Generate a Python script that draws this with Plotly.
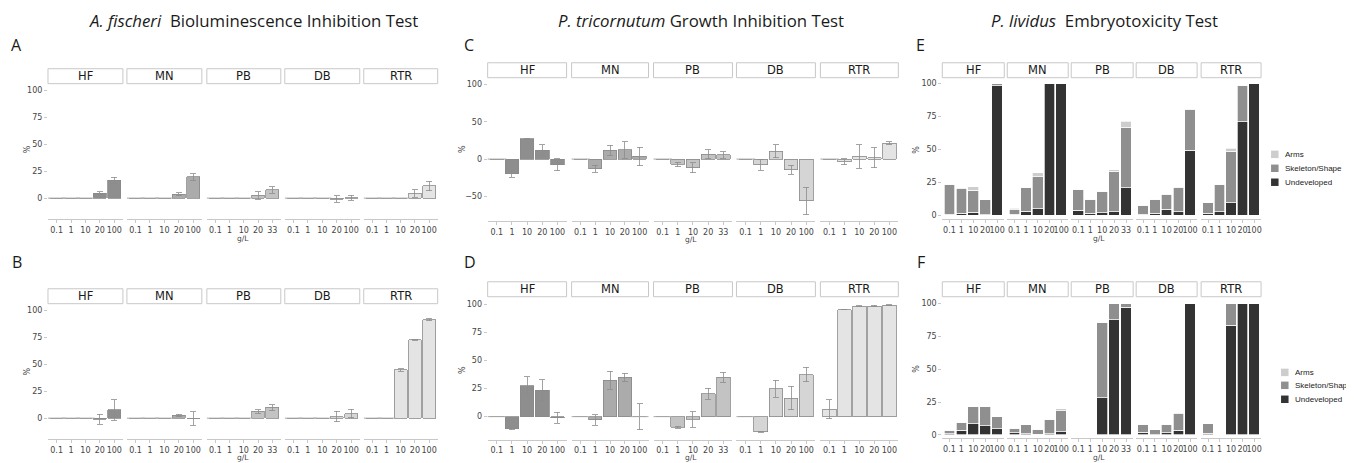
import plotly.graph_objects as go

# page body adds an 8px margin, so the figure is placed at (8, 8) in the window
OFF = 8
W, H = 1354 - OFF, 463 - OFF

# ---------------- data ----------------
facets = ["HF", "MN", "PB", "DB", "RTR"]
conc_std = ["0.1", "1", "10", "20", "100"]
conc_pb = ["0.1", "1", "10", "20", "33"]

col_titles = ["<i>A. fischeri</i>  Bioluminescence Inhibition Test",
              "<i>P. tricornutum</i> Growth Inhibition Test",
              "<i>P. lividus</i>  Embryotoxicity Test"]

# A: A. fischeri (row 1) - mean % and error per facet
a_mean = [[0, 0, 0, 4.6, 16.7], [0, 0, 0, 3.7, 19.7], [0, 0, 0, 2.5, 7.7],
          [0, 0, 0, -1.0, 0.3], [0, 0, 0, 4.3, 11.4]]
a_err = [[0, 0, 0, 1.5, 2.8], [0, 0, 0, 1.5, 3.0], [0, 0, 0, 3.5, 3.0],
         [0, 0, 0, 3.0, 2.5], [0, 0, 0, 3.5, 4.5]]
# B: A. fischeri (row 2)
b_mean = [[0, 0, 0, -1.0, 7.7], [0, 0, 0, 2.5, -0.3], [0, 0, 0, 6.2, 10.0],
          [0, 0, 0, 1.5, 4.3], [0, 0, 44.8, 72.8, 91.7]]
b_err = [[0, 0, 0, 4.6, 9.5], [0, 0, 0, 1.0, 6.3], [0, 0, 0, 1.5, 2.5],
         [0, 0, 0, 5.0, 4.0], [0, 0, 1.0, 0.3, 1.0]]
# C: P. tricornutum (row 1)
c_mean = [[0, -19.6, 27.0, 12.0, -7.5], [0, -13.0, 11.5, 12.4, 3.5],
          [0, -7.0, -11.5, 6.5, 5.5], [0, -7.5, 10.5, -14.5, -56.0],
          [0, -3.5, 3.5, 2.0, 21.0]]
c_err = [[0, 4.5, 1.0, 7.5, 8.0], [0, 4.5, 7.0, 11.0, 12.5],
         [0, 3.0, 6.5, 6.0, 4.5], [0, 7.5, 9.0, 6.0, 18.5],
         [0, 4.0, 16.0, 13.5, 2.0]]
# D: P. tricornutum (row 2)
d_mean = [[0, -11.0, 27.5, 23.5, -1.0], [0, -3.0, 32.5, 35.0, 0],
          [0, -9.5, -2.5, 20.5, 35.0], [0, -13.5, 25.0, 16.5, 37.5],
          [6.5, 95.5, 98.5, 98.7, 99.3]]
d_err = [[0, 0.5, 8.0, 9.5, 4.8], [0, 4.5, 8.0, 3.5, 11.5],
         [0, 1.0, 7.0, 5.0, 4.5], [0, 0.5, 7.5, 10.5, 6.5],
         [8.5, 0.3, 0.5, 0.5, 0.5]]

# E: P. lividus (row 1) - stacked percentages
e_undev = [[0.8, 1.3, 2.3, 0.3, 98.5], [0.8, 2.8, 5.0, 100, 100],
           [3.8, 1.5, 1.8, 2.5, 20.8], [0.8, 1.5, 4.6, 2.5, 49.5],
           [1.3, 2.5, 9.4, 71.0, 100]]
e_skel = [[22.3, 18.7, 16.5, 11.4, 1.5], [3.3, 18.3, 24.0, 0, 0],
          [16.0, 10.5, 16.5, 31.0, 46.2], [6.5, 10.5, 11.1, 18.8, 31.0],
          [8.3, 20.8, 39.0, 27.7, 0]]
e_arms = [[0.5, 0.8, 2.8, 0, 0], [1.0, 0, 3.2, 0, 0],
          [0, 0, 0, 1.0, 4.3], [0.3, 0, 0.5, 0.3, 0.5],
          [0, 0, 2.5, 0, 0]]
# F: P. lividus (row 2)
f_undev = [[0.8, 3.3, 8.4, 7.1, 4.8], [1.5, 0.8, 0.3, 0.8, 2.5],
           [0, 0, 28.1, 87.8, 97.2], [1.8, 0, 1.5, 3.5, 100],
           [1.3, 0, 83.5, 100, 100]]
f_skel = [[2.5, 6.3, 12.9, 14.2, 8.9], [3.6, 6.8, 4.0, 11.1, 15.7],
          [0, 0, 57.9, 12.2, 2.8], [6.3, 4.0, 6.6, 12.7, 0],
          [7.1, 0, 16.5, 0, 0]]
f_arms = [[0, 0, 0, 0, 0], [0, 0, 0, 0, 1.8],
          [0, 0, 0, 0, 0], [0, 0, 0, 0.8, 0],
          [0, 0, 0, 0, 0]]

stack_names = ["Undeveloped", "Skeleton/Shape", "Arms"]

# ---------------- style / layout ----------------
fill_colors = ["#8e8e8e", "#ababab", "#c3c3c3", "#d5d5d5", "#e4e4e4"]
stack_colors = ["#333333", "#8f8f8f", "#cdcdcd"]
GRID = "#c8c8c8"
TXT = "#444444"
AXFONT = "DejaVu Sans"

col_x = {
    "L": [(48, 123), (127, 202), (207, 281), (285, 360), (364, 438)],
    "M": [(488, 567), (572, 649), (654, 733), (737, 816), (821, 899)],
    "R": [(943, 1005), (1008, 1069), (1072, 1134), (1137, 1198), (1202, 1262)],
}
# key, column, strip top, strip bottom, plot bottom, y range, y ticks, letter pos, ylab pos, g/L pos
panel_spec = [
    ("A", "L", 69, 84, 220, [-19.5, 106.5], [0, 25, 50, 75, 100], (17, 45), (27, 150), (243, 240)),
    ("B", "L", 290, 305, 441, [-19.5, 106.5], [0, 25, 50, 75, 100], (17, 263), (27, 373), (243, 459)),
    ("C", "M", 63, 78, 222, [-83, 109], [-50, 0, 50, 100], (469, 45), (463, 150), (692, 241)),
    ("D", "M", 283, 298, 441.5, [-20.5, 107], [0, 25, 50, 75, 100], (470, 263), (463, 372), (692, 459.5)),
    ("E", "R", 63, 78, 220, [-3, 104.5], [0, 25, 50, 75, 100], (921, 45), (917, 150), (1100, 240)),
    ("F", "R", 283, 298, 440, [-2.5, 105.3], [0, 25, 50, 75, 100], (922, 263), (917, 370), (1100, 459)),
]
bar_data = {"A": (a_mean, a_err), "B": (b_mean, b_err), "C": (c_mean, c_err), "D": (d_mean, d_err)}
stack_data = {"E": (e_undev, e_skel, e_arms), "F": (f_undev, f_skel, f_arms)}
legend_pos = {"E": (1272, [183, 169, 155]), "F": (1282, [401, 387, 374])}
title_pos = [(254, 21), (702, 21), (1105, 21)]


def px(x):
    return (x - OFF) / W


def py(y):
    return 1 - (y - OFF) / H


fig = go.Figure()
layout = {}
shapes = []
annotations = []

k = 0
for (pkey, col, s_top, s_bot, p_bot, yr, yt, lpos, ylpos, glpos) in panel_spec:
    for fi, fname in enumerate(facets):
        k += 1
        x0, x1 = col_x[col][fi]
        xa = "x" if k == 1 else f"x{k}"
        ya = "y" if k == 1 else f"y{k}"
        cats = conc_pb if fname == "PB" else conc_std
        layout["xaxis" if k == 1 else f"xaxis{k}"] = dict(
            domain=[px(x0), px(x1)], anchor=ya, type="category",
            categoryorder="array", categoryarray=cats, range=[-0.6, 4.6],
            showline=True, linecolor=GRID, linewidth=1, ticks="outside", ticklen=3,
            tickcolor=GRID, tickwidth=1, tickangle=0, showgrid=False, zeroline=False,
            tickfont=dict(family=AXFONT, size=8, color=TXT), fixedrange=True)
        layout["yaxis" if k == 1 else f"yaxis{k}"] = dict(
            domain=[py(p_bot), py(s_bot)], anchor=xa, range=yr,
            tickmode="array", tickvals=yt, showticklabels=(fi == 0),
            ticks="outside" if fi == 0 else "", ticklen=3, tickcolor=GRID,
            showgrid=False, zeroline=False, showline=False,
            tickfont=dict(family=AXFONT, size=8, color=TXT), fixedrange=True)
        # strip
        shapes.append(dict(type="rect", xref="paper", yref="paper",
                           x0=px(x0), x1=px(x1), y0=py(s_bot), y1=py(s_top),
                           line=dict(color=GRID, width=1), fillcolor="white", layer="above"))
        annotations.append(dict(text=fname, xref="paper", yref="paper",
                                x=px((x0 + x1) / 2), y=py((s_top + s_bot) / 2),
                                showarrow=False, xanchor="center", yanchor="middle",
                                font=dict(family=AXFONT, size=11.5, color="#1a1a1a")))
        bw = 0.9 * (x1 - x0) / 5.2
        if pkey in bar_data:
            means, errs = bar_data[pkey]
            vals, err = means[fi], errs[fi]
            fig.add_trace(go.Bar(
                x=cats, y=vals, xaxis=xa, yaxis=ya, showlegend=False, name=fname,
                marker=dict(color=fill_colors[fi], line=dict(color="#8a8a8a", width=0.8)),
                error_y=dict(type="data", array=err, visible=True, color="#8c8c8c",
                             thickness=0.8, width=3)))
            zc = [c for c, v in zip(cats, vals) if v == 0]
            zv = [v for v in vals if v == 0]
            if zc:
                fig.add_trace(go.Scatter(
                    x=zc, y=zv, xaxis=xa, yaxis=ya, mode="markers", showlegend=False,
                    hoverinfo="skip",
                    marker=dict(symbol="line-ew", size=bw,
                                line=dict(color="#a8a8a8", width=1))))
        else:
            series = stack_data[pkey]
            for si in range(3):
                fig.add_trace(go.Bar(
                    x=cats, y=series[si][fi], xaxis=xa, yaxis=ya, showlegend=False,
                    name=stack_names[si],
                    marker=dict(color=stack_colors[si], line=dict(color="white", width=0.7))))
    # panel letter
    annotations.append(dict(text=pkey, xref="paper", yref="paper", x=px(lpos[0]), y=py(lpos[1]),
                            showarrow=False, xanchor="center", yanchor="middle",
                            font=dict(family="Open Sans", size=16, color="#1a1a1a")))
    annotations.append(dict(text="%", xref="paper", yref="paper", x=px(ylpos[0]), y=py(ylpos[1]),
                            showarrow=False, textangle=-90, xanchor="center", yanchor="middle",
                            font=dict(family=AXFONT, size=8, color=TXT)))
    annotations.append(dict(text="g/L", xref="paper", yref="paper", x=px(glpos[0]), y=py(glpos[1]),
                            showarrow=False, xanchor="center", yanchor="middle",
                            font=dict(family=AXFONT, size=7.5, color=TXT)))
    if pkey in legend_pos:
        lx, rows = legend_pos[pkey]
        for si in range(3):
            ry = rows[si]
            shapes.append(dict(type="rect", xref="paper", yref="paper",
                               x0=px(lx), x1=px(lx + 7.5), y0=py(ry + 3.75), y1=py(ry - 3.75),
                               line=dict(width=0), fillcolor=stack_colors[si]))
            annotations.append(dict(text=stack_names[si], xref="paper", yref="paper",
                                    x=px(lx + 12), y=py(ry), showarrow=False,
                                    xanchor="left", yanchor="middle",
                                    font=dict(family="Liberation Sans", size=8, color="#1a1a1a")))

for ti, t in enumerate(col_titles):
    annotations.append(dict(text=t, xref="paper", yref="paper", x=px(title_pos[ti][0]),
                            y=py(title_pos[ti][1]), showarrow=False, xanchor="center",
                            yanchor="middle", font=dict(family="Open Sans", size=16.8, color="#1a1a1a")))

fig.update_layout(
    width=W, height=H, margin=dict(l=0, r=0, t=0, b=0),
    paper_bgcolor="white", plot_bgcolor="white",
    barmode="stack", bargap=0.1, showlegend=False,
    shapes=shapes, annotations=annotations, **layout)

fig.write_html("out.html", config={"displayModeBar": False})
